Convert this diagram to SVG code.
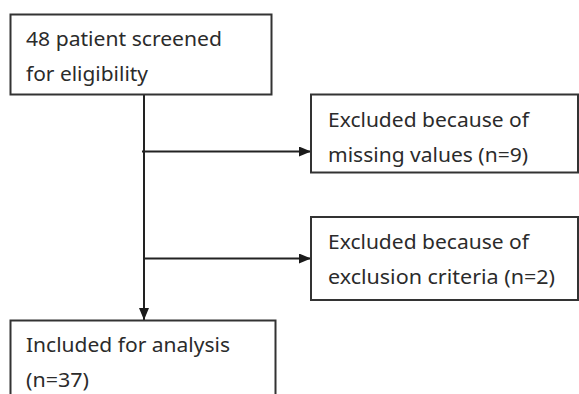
<svg xmlns="http://www.w3.org/2000/svg" width="579" height="394" viewBox="0 0 579 394">
<defs>
<marker id="ah" viewBox="0 0 12 10" refX="12" refY="5" markerWidth="12" markerHeight="10" markerUnits="userSpaceOnUse" orient="auto">
<path d="M0,0 L12,5 L0,10 Z" fill="#1a1a1a"/>
</marker>
<style>
.box{fill:#fff;stroke:#333;stroke-width:2}
.t{font-family:"Noto Sans","DejaVu Sans",sans-serif;font-size:19px;fill:#2b2b2b}
.c{stroke:#222;stroke-width:2;fill:none}
</style>
</defs>
<rect width="579" height="394" fill="#fff"/>
<g id="connectors">
<line class="c" x1="144" y1="95" x2="144" y2="320" marker-end="url(#ah)"/>
<line class="c" x1="142" y1="151.5" x2="311" y2="151.5" marker-end="url(#ah)"/>
<line class="c" x1="144" y1="258.5" x2="311" y2="258.5" marker-end="url(#ah)"/>
</g>
<g id="screened">
<rect class="box" x="10.5" y="14.5" width="261" height="80"/>
<text class="t" x="26" y="46" textLength="196" lengthAdjust="spacingAndGlyphs">48 patient screened</text>
<text class="t" x="26" y="81" textLength="122" lengthAdjust="spacingAndGlyphs">for eligibility</text>
</g>
<g id="missing">
<rect class="box" x="311" y="94.5" width="267" height="78"/>
<text class="t" x="328" y="127" textLength="201" lengthAdjust="spacingAndGlyphs">Excluded because of</text>
<text class="t" x="328" y="162" textLength="200" lengthAdjust="spacingAndGlyphs">missing values (n=9)</text>
</g>
<g id="exclusion">
<rect class="box" x="311" y="217" width="267" height="83"/>
<text class="t" x="328" y="248.5" textLength="201" lengthAdjust="spacingAndGlyphs">Excluded because of</text>
<text class="t" x="328" y="283.5" textLength="227" lengthAdjust="spacingAndGlyphs">exclusion criteria (n=2)</text>
</g>
<g id="included">
<rect class="box" x="10.5" y="320.5" width="265" height="80"/>
<text class="t" x="26" y="352" textLength="204" lengthAdjust="spacingAndGlyphs">Included for analysis</text>
<text class="t" x="26" y="387" textLength="63" lengthAdjust="spacingAndGlyphs">(n=37)</text>
</g>
</svg>
